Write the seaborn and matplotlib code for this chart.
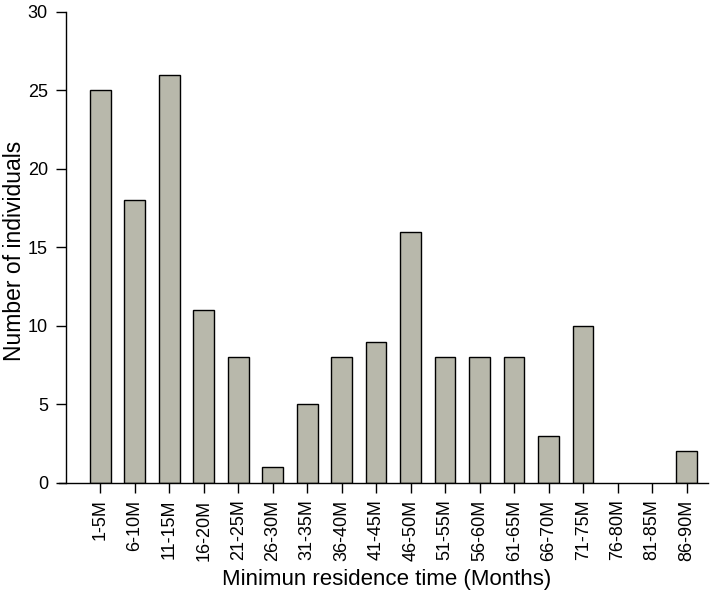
import pandas as pd
import seaborn as sns
import matplotlib.pyplot as plt

categories = ['1-5M', '6-10M', '11-15M', '16-20M', '21-25M', '26-30M', '31-35M',
              '36-40M', '41-45M', '46-50M', '51-55M', '56-60M', '61-65M', '66-70M',
              '71-75M', '76-80M', '81-85M', '86-90M']
counts = [25, 18, 26, 11, 8, 1, 5, 8, 9, 16, 8, 8, 8, 3, 10, 0, 0, 2]
y_ticks = [0, 5, 10, 15, 20, 25, 30]

df = pd.DataFrame({'Residence': categories, 'Individuals': counts})

sns.set_style('ticks')
plt.rcParams['font.family'] = ['Liberation Sans', 'DejaVu Sans']
plt.rcParams['text.color'] = 'black'
plt.rcParams['axes.labelcolor'] = 'black'
plt.rcParams['xtick.color'] = 'black'
plt.rcParams['ytick.color'] = 'black'

fig = plt.figure(figsize=(7.13, 5.96), dpi=100)
ax = fig.add_axes([0.0926, 0.19, 0.9004, 0.79])

sns.barplot(x='Residence', y='Individuals', data=df, color='#b8b8ab',
            edgecolor='black', linewidth=1, width=0.6, saturation=1, ax=ax)
# empty classes have no visible bar
for p, v in zip(ax.patches, counts):
    if v == 0:
        p.set_visible(False)

ax.set_xlim(-0.99, 17.62)
ax.set_ylim(0, 30)
ax.set_yticks(y_ticks)
ax.tick_params(axis='y', labelsize=13, length=7, width=1, direction='out', pad=6)
ax.tick_params(axis='x', labelsize=13, length=7, width=1, direction='out', rotation=90, pad=5)
for s in ['top', 'right']:
    ax.spines[s].set_visible(False)
for s in ['left', 'bottom']:
    ax.spines[s].set_color('black')
    ax.spines[s].set_linewidth(1)
ax.spines['bottom'].set_bounds(-1.19, 17.62)

ax.set_xlabel('Minimun residence time (Months)', fontsize=16, labelpad=6)
ax.set_ylabel('Number of individuals', fontsize=16.5)
ax.yaxis.set_label_coords(-0.062, 0.4915)

fig.savefig('out.png', dpi=100)
